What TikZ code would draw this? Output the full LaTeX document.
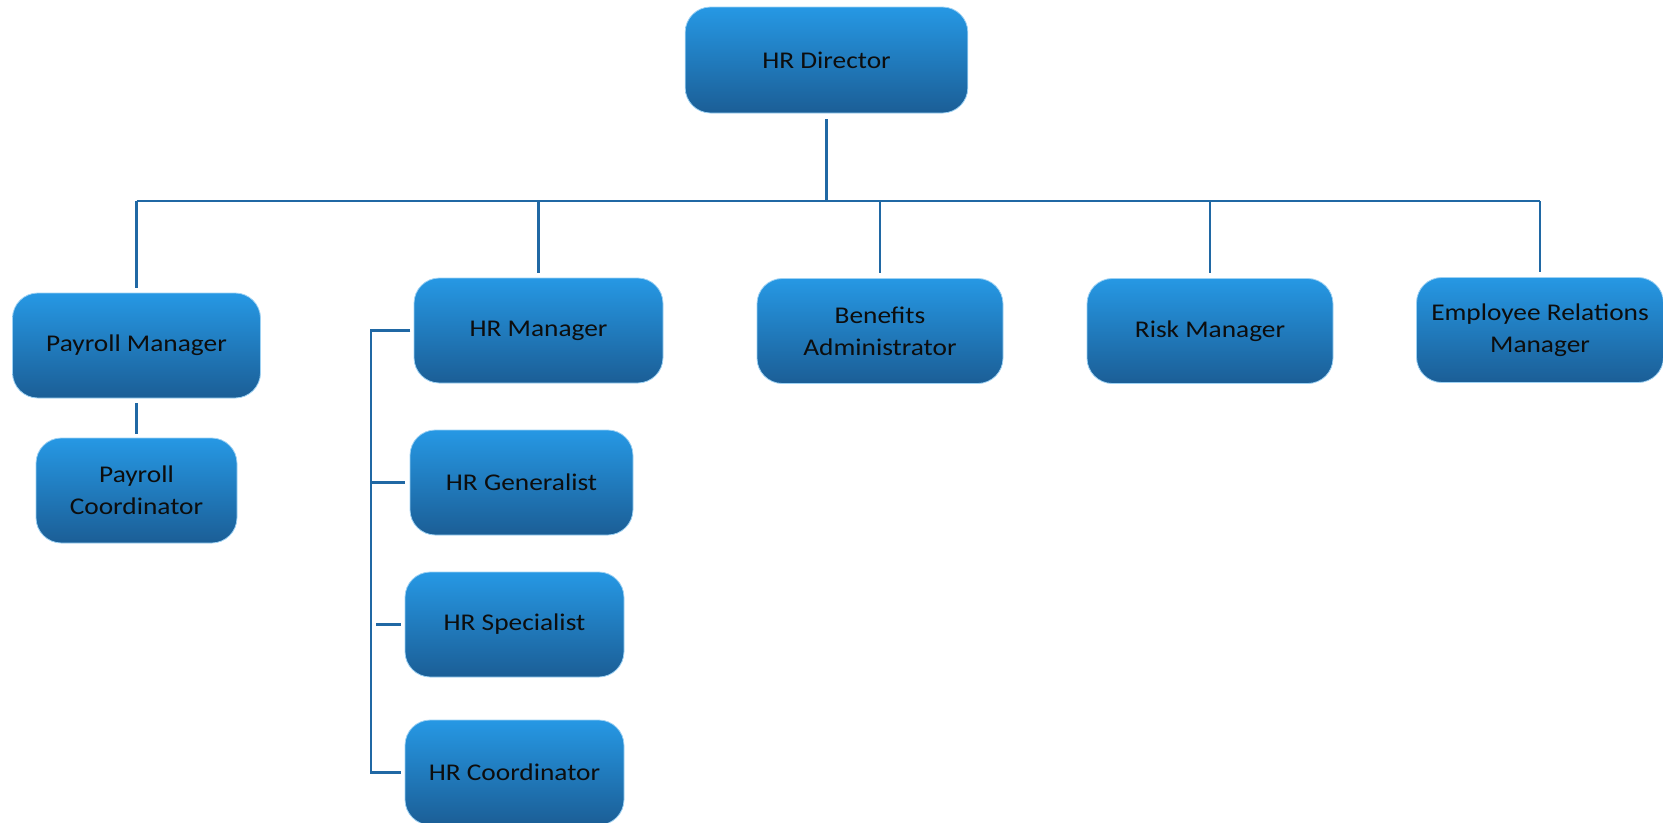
\documentclass[tikz,border=0pt]{standalone}
\usepackage{fontspec}
\setmainfont{Carlito}[FakeStretch=1.14]
\definecolor{boxtop}{RGB}{38,152,228}
\definecolor{boxbot}{RGB}{27,94,150}
\definecolor{linkcol}{RGB}{32,104,164}
\tikzset{
  role/.style={rounded corners=19pt, top color=boxtop, bottom color=boxbot,
    draw=boxtop!45!white, line width=0.6pt, minimum height=78.75pt,
    align=center, text=black!95, font=\fontsize{18}{24}\selectfont},
  link/.style={draw=linkcol, line width=2.2pt},
}
\begin{document}
\begin{tikzpicture}[x=0.75pt,y=-0.75pt]
      \useasboundingbox (0,0) rectangle (1663,822);
      \draw
        (826.5,60) node[role, minimum width=212pt, minimum height=79.5pt] (dir){HR Director}
        (136.5,345.5) node[role, minimum width=186pt] (pay){Payroll Manager}
        (136.5,490.5) node[role, minimum width=150.75pt] (payc){Payroll\\Coordinator}
        (538.5,330.5) node[role, minimum width=186.75pt] (hrm){HR Manager}
        (521.5,482.5) node[role, minimum width=167.25pt] (hrg){HR Generalist}
        (514.5,624.5) node[role, minimum width=164.25pt] (hrs){HR Specialist}
        (514.5,772.5) node[role, minimum width=164.25pt] (hrc){HR Coordinator}
        (880,331) node[role, minimum width=184.5pt] (ben){Benefits\\Administrator}
        (1210,331) node[role, minimum width=184.5pt] (risk){Risk Manager}
        (1540,330) node[role, minimum width=185.25pt] (erm){Employee Relations\\Manager};
      \coordinate (bus) at (0,201);
      \coordinate (rail) at (371,0);
      \begin{scope}[link]
        \draw[shorten <=4.5pt] (dir.south) -- (dir.south |- bus);
        \draw (pay.north |- bus) -- (erm.north |- bus);
        \foreach \n in {pay,hrm,ben,risk,erm}
          \draw[shorten >=3.5pt] (\n.north |- bus) -- (\n.north);
        \draw[shorten <=3.5pt, shorten >=3pt] (pay.south) -- (payc.north);
        \draw[shorten <=2.5pt, shorten >=2.5pt] (hrm.west) -- (hrm.west -| rail) |- (hrc.west);
        \draw[shorten >=3.5pt] (hrg.west -| rail) -- (hrg.west);
        \draw[shorten <=4pt, shorten >=2.5pt] (hrs.west -| rail) -- (hrs.west);
      \end{scope}
    \end{tikzpicture}
\end{document}
